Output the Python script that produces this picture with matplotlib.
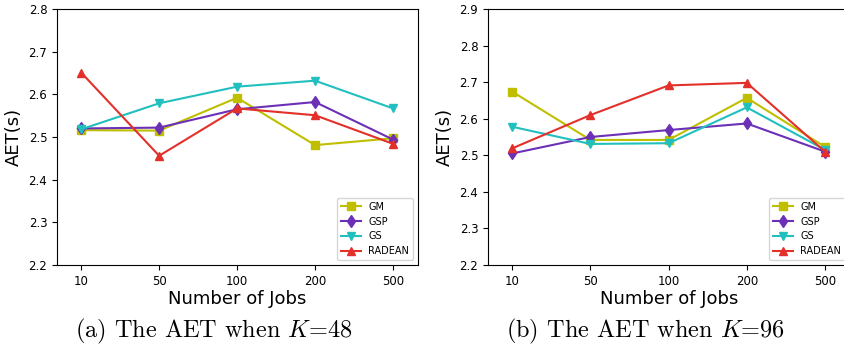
import matplotlib

matplotlib.use("Agg")
import matplotlib.pyplot as plt

plt.rcParams["mathtext.fontset"] = "cm"

jobs = ["10", "50", "100", "200", "500"]
series_names = ["GM", "GSP", "GS", "RADEAN"]

# K = 48
gm_48 = [2.516, 2.515, 2.592, 2.481, 2.497]
gsp_48 = [2.520, 2.522, 2.565, 2.582, 2.494]
gs_48 = [2.518, 2.579, 2.618, 2.632, 2.567]
radean_48 = [2.651, 2.456, 2.567, 2.551, 2.484]

# K = 96
gm_96 = [2.674, 2.542, 2.542, 2.657, 2.523]
gsp_96 = [2.505, 2.550, 2.569, 2.587, 2.510]
gs_96 = [2.578, 2.531, 2.533, 2.631, 2.515]
radean_96 = [2.519, 2.610, 2.691, 2.698, 2.510]

colors = ["#bfbf00", "#6c30b6", "#22bfbf", "#e3302b"]
markers = ["s", "d", "v", "^"]

W, H = 844, 346
fig = plt.figure(figsize=(W / 100, H / 100), dpi=100)
ax_a = fig.add_axes([57 / W, (H - 265) / H, 361 / W, 256 / H])
ax_b = fig.add_axes([488 / W, (H - 265) / H, 362 / W, 256 / H])


def draw(ax, data, ymax):
    x = list(range(len(jobs)))
    for name, vals, col, mk in zip(series_names, data, colors, markers):
        ax.plot(x, vals, color=col, marker=mk, markersize=6, linewidth=1.5, label=name)
    ax.set_xticks(x)
    ax.set_xticklabels(jobs)
    ax.set_xlim(-0.31, 4.32)
    ax.set_ylim(2.2, ymax)
    ax.tick_params(labelsize=8.5)
    ax.set_xlabel("Number of Jobs", fontsize=13, labelpad=2)
    ax.set_ylabel("AET(s)", fontsize=13, labelpad=4)
    ax.legend(loc="lower right", fontsize=7)


draw(ax_a, [gm_48, gsp_48, gs_48, radean_48], 2.8)
draw(ax_b, [gm_96, gsp_96, gs_96, radean_96], 2.9)

fig.text(214 / W, 1 - 331 / H, r"(a) The AET when $K$=48", family="cmr10", fontsize=17.5, ha="center", va="center")
fig.text(646 / W, 1 - 331 / H, r"(b) The AET when $K$=96", family="cmr10", fontsize=17.5, ha="center", va="center")

fig.savefig("out.png", dpi=100)
